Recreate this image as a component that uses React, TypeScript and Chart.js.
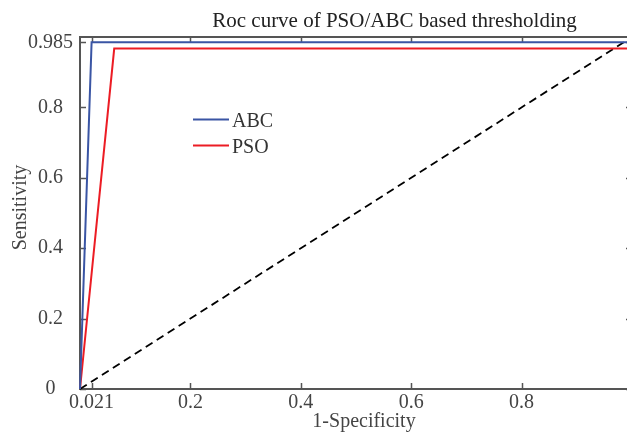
import React, { useEffect, useRef } from "react";
import { Chart, registerables } from "chart.js";

Chart.register(...registerables);

const TITLE = "Roc curve of PSO/ABC based thresholding";
const X_LABEL = "1-Specificity";
const Y_LABEL = "Sensitivity";
const SERIES_NAMES = ["ABC", "PSO"];
const SERIES_COLORS = ["#3a55a4", "#ec1c24"];
const ABC_X = [0, 0.021, 1];
const ABC_Y = [0, 0.985, 0.985];
const PSO_X = [0, 0.062, 1];
const PSO_Y = [0, 0.967, 0.967];
const CHANCE_X = [0, 1];
const CHANCE_Y = [0, 1];
const X_TICKS = [0.021, 0.2, 0.4, 0.6, 0.8, 1];
const Y_TICKS = [0, 0.2, 0.4, 0.6, 0.8, 0.985];

const FONT = "'Liberation Serif', 'Times New Roman', serif";

const toPoints = (xs: number[], ys: number[]) => xs.map((x, i) => ({ x, y: ys[i] }));

const framePlugin = {
  id: "frame",
  beforeDatasetsDraw(chart: any) {
    const { ctx, chartArea: a, scales } = chart;
    const x = scales.x;
    const y = scales.y;
    const L = 6;
    ctx.save();
    ctx.strokeStyle = "#555555";
    ctx.lineWidth = 1.5;
    ctx.beginPath();
    X_TICKS.forEach((v) => {
      const px = Math.round(x.getPixelForValue(v)) + 0.5;
      ctx.moveTo(px, a.bottom);
      ctx.lineTo(px, a.bottom - L);
      ctx.moveTo(px, a.top);
      ctx.lineTo(px, a.top + L);
    });
    Y_TICKS.forEach((v) => {
      const py = Math.round(y.getPixelForValue(v)) + 0.5;
      ctx.moveTo(a.left, py);
      ctx.lineTo(a.left + L, py);
      ctx.moveTo(a.right, py);
      ctx.lineTo(a.right - L, py);
    });
    ctx.stroke();
    ctx.lineWidth = 2;
    ctx.strokeRect(a.left, a.top, a.right - a.left, a.bottom - a.top);
    ctx.restore();
  },
  afterDraw(chart: any) {
    const { ctx } = chart;
    ctx.save();
    // title
    ctx.fillStyle = "#222222";
    ctx.font = `21px ${FONT}`;
    ctx.textAlign = "center";
    ctx.textBaseline = "alphabetic";
    ctx.fillText(TITLE, 394.5, 27);
    // x label
    ctx.fillStyle = "#444444";
    ctx.font = `20px ${FONT}`;
    ctx.fillText(X_LABEL, 364, 427);
    // y label
    ctx.save();
    ctx.translate(26, 207.5);
    ctx.rotate(-Math.PI / 2);
    ctx.fillText(Y_LABEL, 0, 0);
    ctx.restore();
    // legend
    const rows = [119.5, 145.5];
    SERIES_NAMES.forEach((name, i) => {
      ctx.strokeStyle = SERIES_COLORS[i];
      ctx.lineWidth = 2;
      ctx.beginPath();
      ctx.moveTo(193, rows[i]);
      ctx.lineTo(229, rows[i]);
      ctx.stroke();
      ctx.fillStyle = "#333333";
      ctx.textAlign = "left";
      ctx.textBaseline = "alphabetic";
      ctx.fillText(name, 232, rows[i] + 7.5);
    });
    ctx.restore();
  },
};

export default function App() {
  const ref = useRef<HTMLCanvasElement>(null);

  useEffect(() => {
    if (!ref.current) return;
    const tickFont = { family: FONT, size: 20 };
    const chart = new Chart(ref.current, {
      type: "line",
      data: {
        datasets: [
          {
            label: SERIES_NAMES[0],
            data: toPoints(ABC_X, ABC_Y),
            borderColor: SERIES_COLORS[0],
            borderWidth: 2,
            pointRadius: 0,
            clip: false,
          },
          {
            label: SERIES_NAMES[1],
            data: toPoints(PSO_X, PSO_Y),
            borderColor: SERIES_COLORS[1],
            borderWidth: 2,
            pointRadius: 0,
            clip: false,
          },
          {
            label: "chance",
            data: toPoints(CHANCE_X, CHANCE_Y),
            borderColor: "#000000",
            borderWidth: 1.8,
            borderDash: [8, 5],
            pointRadius: 0,
            clip: false,
          },
        ],
      },
      options: {
        responsive: false,
        animation: false,
        parsing: true,
        layout: { padding: { top: 37, right: 8, left: 0, bottom: 0 } },
        plugins: {
          legend: { display: false },
          title: { display: false },
          tooltip: { enabled: false },
        },
        elements: { line: { tension: 0 } },
        scales: {
          x: {
            type: "linear",
            min: 0,
            max: 1,
            afterBuildTicks: (s: any) => {
              s.ticks = X_TICKS.map((v) => ({ value: v }));
            },
            afterFit: (s: any) => {
              s.height = 43;
            },
            grid: { display: false, drawTicks: false },
            border: { display: false },
            ticks: {
              font: tickFont,
              color: "#444444",
              padding: 2,
              maxRotation: 0,
              autoSkip: false,
              callback: (v: any) => String(v),
            },
          },
          y: {
            type: "linear",
            min: 0,
            max: 1,
            afterBuildTicks: (s: any) => {
              s.ticks = Y_TICKS.map((v) => ({ value: v }));
            },
            afterFit: (s: any) => {
              s.width = 80;
            },
            grid: { display: false, drawTicks: false },
            border: { display: false },
            ticks: {
              font: tickFont,
              color: "#444444",
              padding: 7,
              crossAlign: "center",
              autoSkip: false,
              callback: (v: any) => String(v),
            },
          },
        },
      },
      plugins: [framePlugin],
    } as any);
    return () => chart.destroy();
  }, []);

  return (
    <div
      style={{
        position: "absolute",
        left: 0,
        top: 0,
        width: 627,
        height: 432,
        overflow: "hidden",
        background: "#ffffff",
      }}
    >
      <canvas ref={ref} width={640} height={432} style={{ display: "block" }} />
    </div>
  );
}
